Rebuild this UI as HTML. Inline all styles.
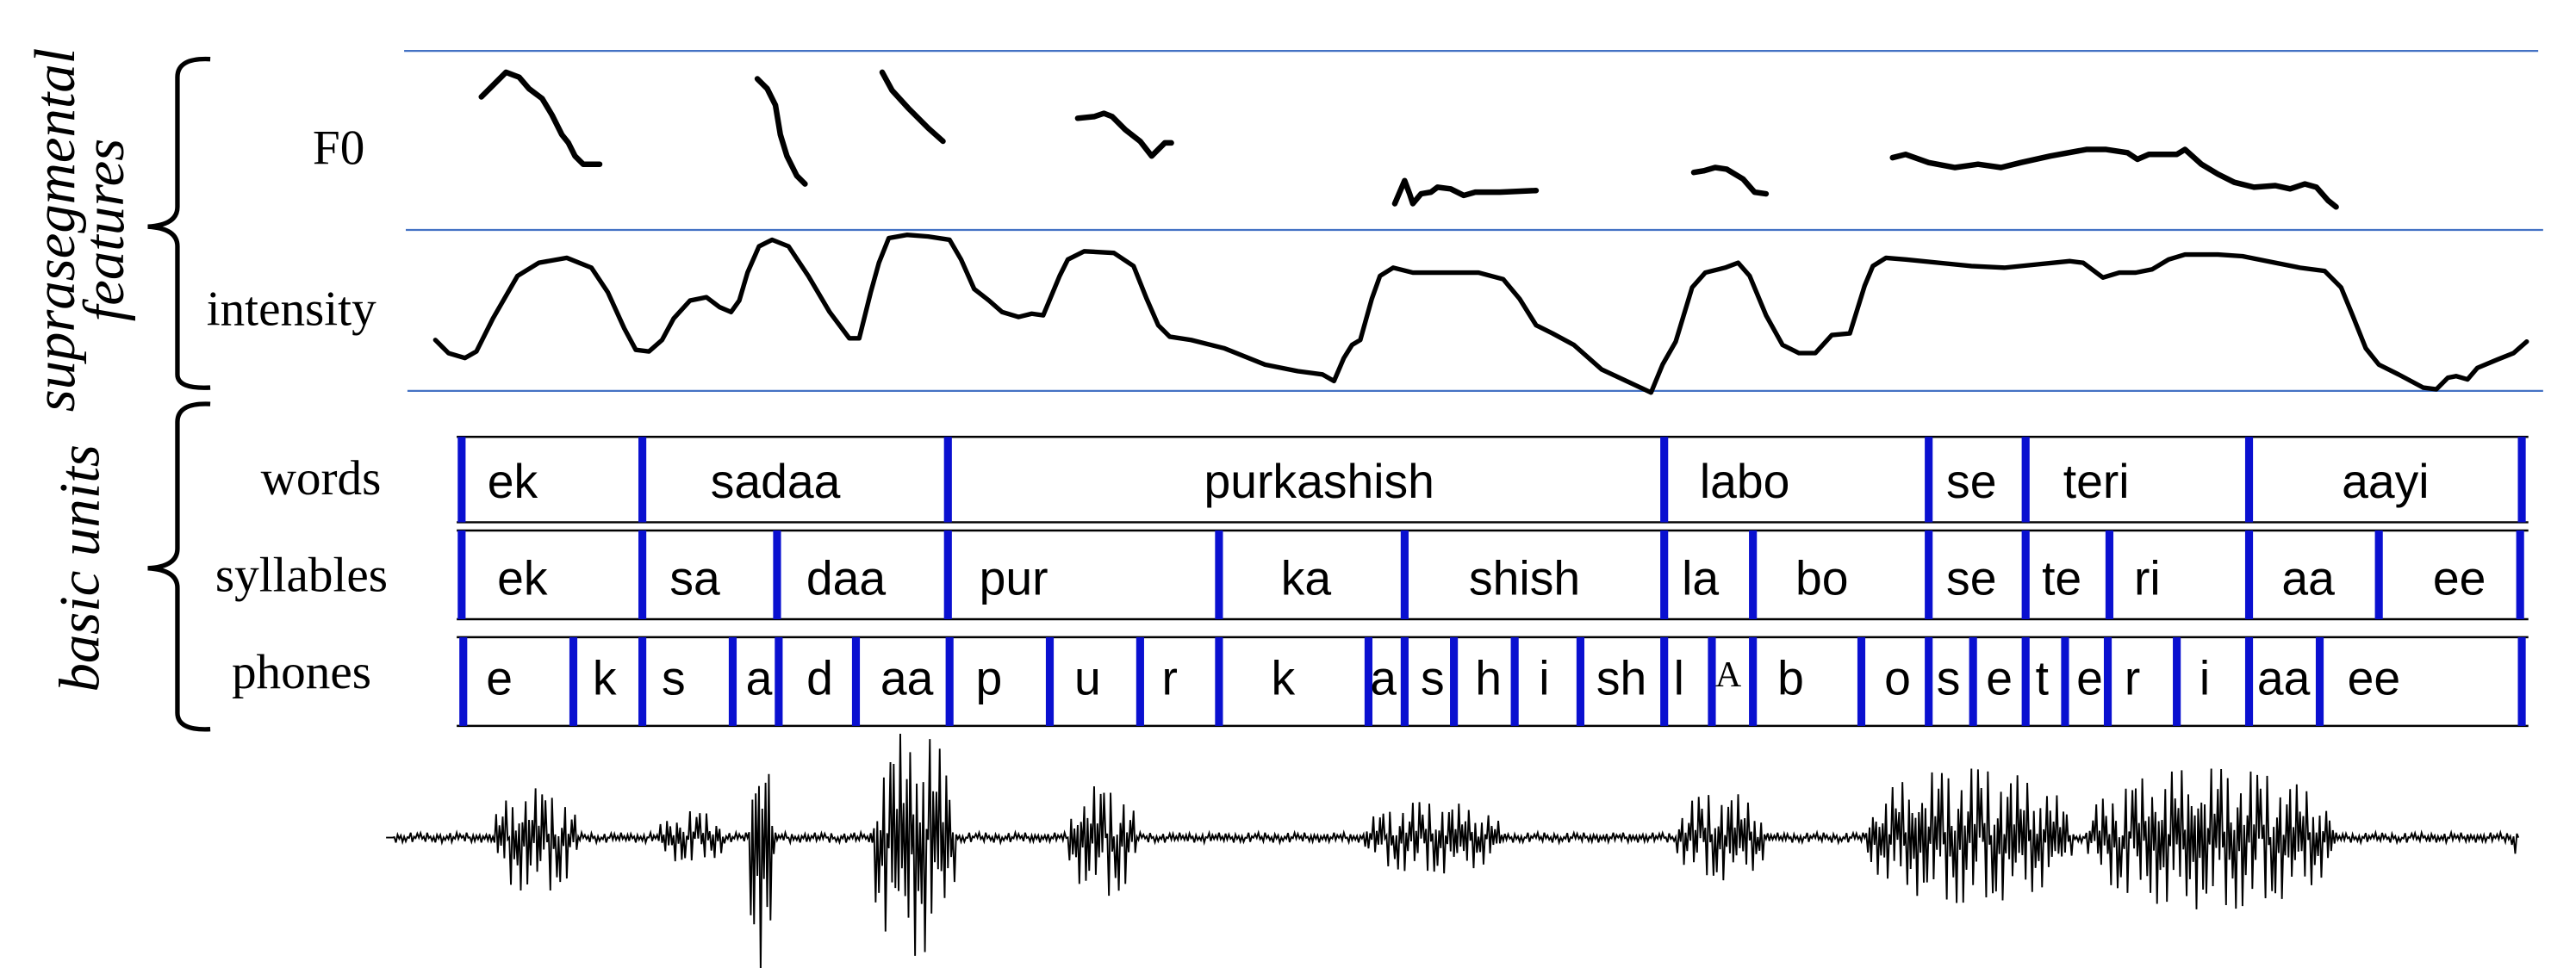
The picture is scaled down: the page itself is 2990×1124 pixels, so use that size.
<!DOCTYPE html>
<html><head><meta charset="utf-8">
<style>
html,body{margin:0;padding:0;background:#fff;}
svg{display:block;}
.lab{font-family:"Liberation Serif",serif;font-size:30px;fill:#000;}
.side{font-family:"Liberation Serif",serif;font-style:italic;font-size:35px;fill:#000;}
.tx{font-family:"Liberation Sans",sans-serif;font-size:29px;fill:#000;}
</style></head>
<body>
<svg id="chart" width="2990" height="1124" viewBox="0 0 1568 589.4" preserveAspectRatio="none" xmlns="http://www.w3.org/2000/svg">
<g id="static">
  <line x1="246" y1="31" x2="1545" y2="31" stroke="#4472c4" stroke-width="1.2"/>
  <line x1="247" y1="140" x2="1548" y2="140" stroke="#4472c4" stroke-width="1.2"/>
  <line x1="248" y1="238" x2="1548" y2="238" stroke="#4472c4" stroke-width="1.2"/>
  <path d="M128,36 Q108,35 108,47 L108,126 Q108,137 90,138 Q108,139 108,150 L108,228 Q108,237 128,236" fill="none" stroke="#000" stroke-width="2.8"/>
  <path d="M128,246 Q108,245 108,257 L108,334 Q108,345 90,346 Q108,347 108,358 L108,434 Q108,445 128,444" fill="none" stroke="#000" stroke-width="2.8"/>
  <text class="side" transform="translate(45,140) rotate(-90)" text-anchor="middle">suprasegmental</text>
  <text class="side" transform="translate(75,140) rotate(-90)" text-anchor="middle">features</text>
  <text class="side" transform="translate(60,346) rotate(-90)" text-anchor="middle">basic units</text>
  <text class="lab" x="222" y="100" text-anchor="end">F0</text>
  <text class="lab" x="229" y="198" text-anchor="end">intensity</text>
  <text class="lab" x="232" y="301" text-anchor="end">words</text>
  <text class="lab" x="236" y="360" text-anchor="end">syllables</text>
  <text class="lab" x="226" y="419" text-anchor="end">phones</text>
</g>
<g id="tiers"></g>
<g id="curves"></g>
<g id="wave"></g>
</svg>
<script>
// ---- data ----
const wordBounds = [281, 391, 577, 1013, 1174, 1233, 1369, 1535];
const wordLabels = ["ek","sadaa","purkashish","labo","se","teri","aayi"];
const wordLabelX = [312, 472, 803, 1062, 1200, 1276, 1452];
const sylBounds = [281, 391, 473, 577, 742, 855, 1013, 1067, 1174, 1233, 1284, 1369, 1448, 1534];
const sylLabels = ["ek","sa","daa","pur","ka","shish","la","bo","se","te","ri","aa","ee"];
const sylLabelX = [318, 423, 515, 617, 795, 928, 1035, 1109, 1200, 1255, 1307, 1405, 1497];
const phoneBounds = [282, 349, 391, 446, 474, 521, 578, 639, 694, 742, 833, 855, 885, 922, 962, 1013, 1042, 1067, 1133, 1174, 1201, 1233, 1257, 1283, 1325, 1369, 1412, 1535];
const phoneLabels = ["e","k","s","a","d","aa","p","u","r","k","a","s","h","i","sh","l","A","b","o","s","e","t","e","r","i","aa","ee"];
const phoneLabelX = [304, 368, 410, 462, 499, 552, 602, 662, 712, 781, 842, 872, 906, 940, 987, 1022, 1052, 1090, 1155, 1186, 1217, 1243, 1272, 1298, 1342, 1390, 1445];

const f0Segments = [
 [[293,59],[300,52],[308,44],[316,47],[322,54],[330,60],[336,70],[342,82],[346,87],[350,95],[355,100],[365,100]],
 [[461,48],[467,54],[472,64],[475,82],[479,95],[485,107],[490,112]],
 [[537,44],[543,55],[553,66],[565,78],[574,86]],
 [[656,72],[666,71],[672,69],[677,71],[685,79],[694,86],[701,95],[709,87],[713,87]],
 [[849,124],[852,117],[855,110],[858,118],[860,124],[865,118],[871,117],[875,114],[883,115],[891,119],[898,117],[913,117],[935,116]],
 [[1031,105],[1037,104],[1044,102],[1051,103],[1061,109],[1068,117],[1075,118]],
 [[1152,96],[1160,94],[1174,99],[1190,102],[1204,100],[1218,102],[1230,99],[1248,95],[1270,91],[1282,91],[1295,93],[1301,97],[1308,94],[1316,94],[1325,94],[1330,91],[1340,100],[1350,106],[1360,111],[1372,114],[1385,113],[1394,115],[1403,112],[1410,114],[1417,122],[1422,126]]
];
const intensityPts = [[265,207],[273,215],[283,218],[290,214],[300,194],[315,168],[328,160],[345,157],[360,163],[370,178],[380,200],[387,213],[395,214],[403,207],[410,194],[420,183],[430,181],[438,187],[445,190],[450,183],[455,166],[462,150],[470,146],[480,150],[492,168],[505,190],[517,206],[523,206],[530,178],[535,160],[541,145],[552,143],[565,144],[578,146],[585,158],[593,176],[602,183],[610,190],[620,193],[628,191],[635,192],[645,168],[650,158],[660,153],[678,154],[690,162],[698,182],[705,198],[712,205],[725,207],[745,212],[770,222],[790,226],[805,228],[812,232],[818,218],[823,210],[828,207],[835,182],[840,168],[848,163],[860,166],[880,166],[900,166],[915,170],[925,182],[935,198],[945,203],[958,210],[975,225],[990,232],[1005,239],[1012,222],[1020,208],[1030,175],[1038,166],[1050,163],[1058,160],[1065,168],[1075,192],[1085,210],[1095,215],[1105,215],[1115,204],[1126,203],[1135,174],[1140,162],[1148,157],[1160,158],[1180,160],[1200,162],[1220,163],[1240,161],[1260,159],[1268,160],[1280,169],[1290,166],[1300,166],[1310,164],[1320,158],[1330,155],[1350,155],[1365,156],[1380,159],[1400,163],[1415,165],[1425,175],[1432,192],[1440,212],[1448,222],[1460,228],[1475,236],[1483,237],[1490,230],[1495,229],[1502,231],[1508,224],[1520,219],[1530,215],[1538,208]];

// waveform bursts: start x, end x, upper amplitude, lower amplitude
const burstStart = [240, 300, 400, 455, 530, 650, 830, 1020, 1135, 1270, 1528];
const burstEnd   = [1530, 352, 442, 472, 582, 692, 915, 1076, 1262, 1422, 1533];
const burstUp    = [3, 30, 16, 66, 66, 32, 22, 28, 42, 42, 6];
const burstDown  = [3, 34, 16, 82, 72, 36, 22, 26, 40, 44, 10];

const NS = "http://www.w3.org/2000/svg";
function mk(tag, attrs, parent){const e=document.createElementNS(NS,tag);for(const k in attrs)e.setAttribute(k,attrs[k]);parent.appendChild(e);return e;}

const tiers = document.getElementById('tiers');
function drawTier(name, top, bot, bounds, labels, lx, ty, x0, x1){
  const g = mk('g',{},tiers);
  
  
  const l1 = mk('line',{x1:x0,y1:top,x2:x1,y2:top,stroke:'#000','stroke-width':1.3},g);
  
  
  const l2 = mk('line',{x1:x0,y1:bot,x2:x1,y2:bot,stroke:'#000','stroke-width':1.3},g);
  
  
  bounds.forEach(b=>{
    const r = mk('rect',{x:b-2.4,y:top,width:4.8,height:bot-top,fill:'#0a10d0'},g);
    
    
  });
  labels.forEach((s,i)=>{
    const t = mk('text',{x:lx[i],y:ty,'text-anchor':'middle',class:'tx'},g);
    if(s==='A'){t.setAttribute('style','font-family:"Liberation Serif",serif;font-size:22px');t.setAttribute('y',ty-5);}
    t.textContent = s;
    
    
  });
}
drawTier('word', 266, 318, wordBounds, wordLabels, wordLabelX, 303, 278, 1539);
drawTier('syllable', 323, 377, sylBounds, sylLabels, sylLabelX, 362, 278, 1539);
drawTier('phone', 388, 442, phoneBounds, phoneLabels, phoneLabelX, 423, 278, 1539);

const curves = document.getElementById('curves');
f0Segments.forEach((seg,i)=>{
  const p = mk('polyline',{points:seg.map(q=>q.join(',')).join(' '),fill:'none',stroke:'#000','stroke-width':3.4,'stroke-linejoin':'round','stroke-linecap':'round'},curves);
  
  
});
const ip = mk('polyline',{points:intensityPts.map(q=>q.join(',')).join(' '),fill:'none',stroke:'#000','stroke-width':2.8,'stroke-linejoin':'round','stroke-linecap':'round'},curves);



// waveform
const wave = document.getElementById('wave');
const base = 510;
let d = 'M235,'+base;
for(let x=236; x<=1533; x+=1){
  let up=0, dn=0;
  for(let i=0;i<burstStart.length;i++){
    if(x>=burstStart[i] && x<=burstEnd[i]){
      const L=burstEnd[i]-burstStart[i], t=(x-burstStart[i])/L;
      const env = i===0?1:Math.sin(Math.PI*Math.min(1,Math.max(0,t)))**0.35;
      up=Math.max(up,burstUp[i]*env); dn=Math.max(dn,burstDown[i]*env);
    }
  }
  const k = (x%2===0)?-1:1;
  const v = Math.min(1, Math.abs(Math.sin(x*1.7)*0.7+Math.sin(x*0.37)*0.5));
  d += ' L'+x+','+(base + (k<0 ? -up*v : dn*v)).toFixed(1);
}
const wp = mk('path',{d:d,fill:'none',stroke:'#000','stroke-width':1},wave);


</script>
</body></html>
